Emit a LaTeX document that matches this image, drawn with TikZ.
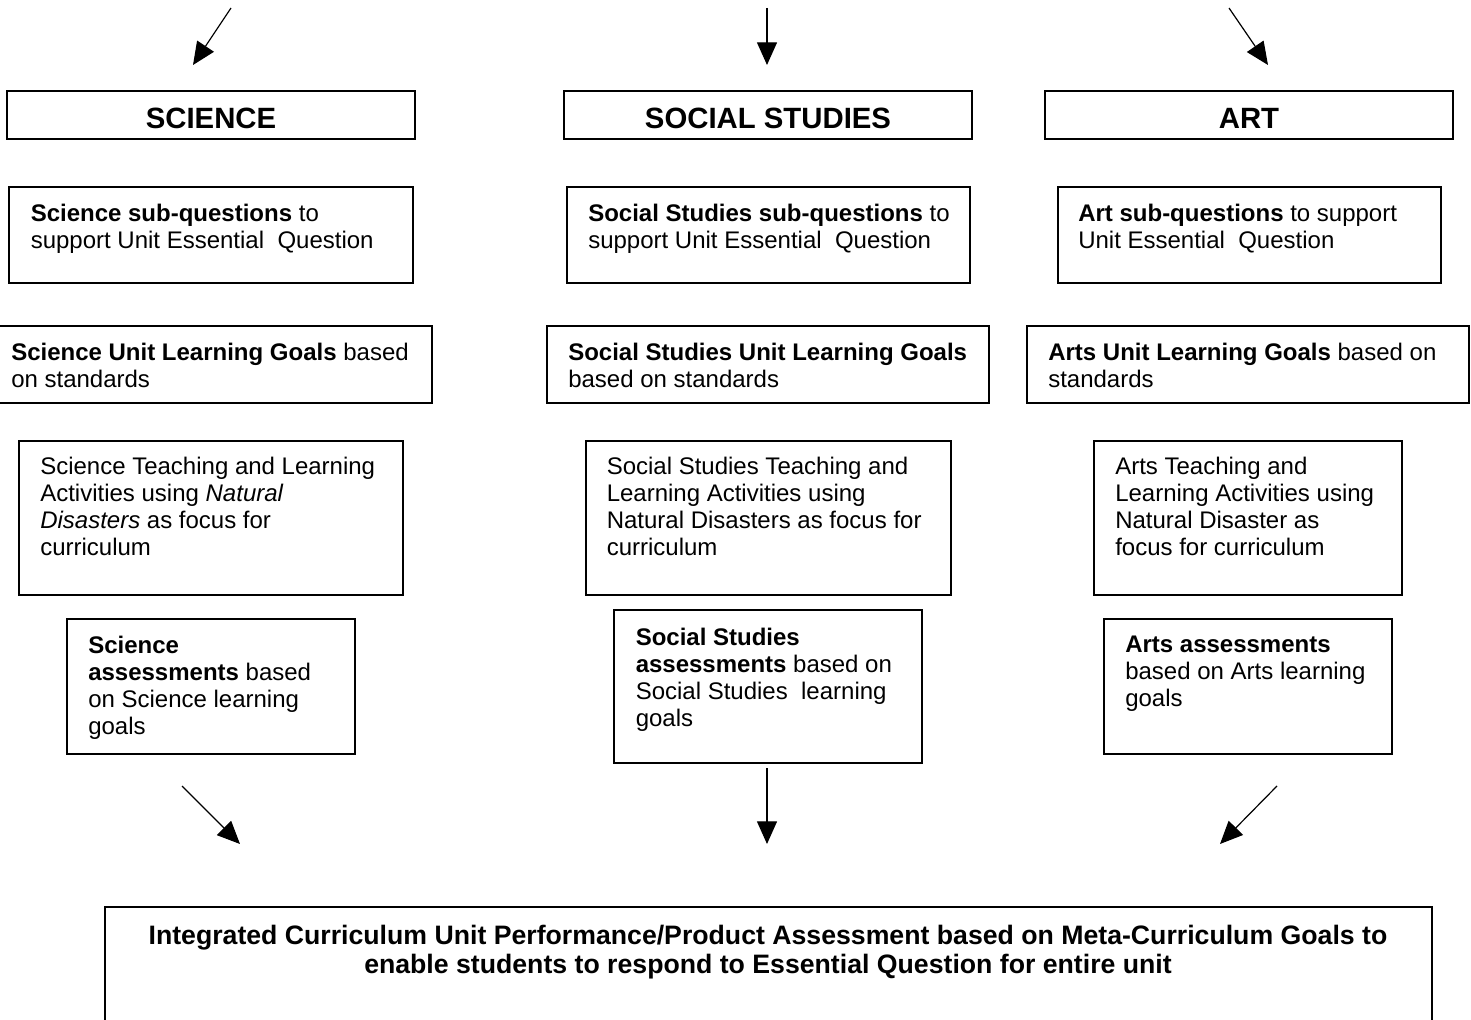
\documentclass[tikz,border=0pt]{standalone}
\usepackage{fontspec}
\setmainfont{Liberation Sans}
\usetikzlibrary{arrows.meta}

\tikzset{
  boxline/.style={line width=1.2pt},
  flowarrow/.style={line width=0.9pt, -{Triangle[length=17pt,width=15pt]}},
  subject/.style={inner sep=0pt, anchor=center, font=\fontsize{22}{26}\selectfont\bfseries},
  boxtext/.style={inner sep=0pt, anchor=north west, align=left, font=\fontsize{18}{20.25}\selectfont},
  finaltext/.style={inner sep=0pt, anchor=north, align=center, font=\fontsize{20}{21.75}\selectfont\bfseries}
}

\begin{document}
\begin{tikzpicture}[x=0.75pt,y=0.75pt,yscale=-1,xscale=1]
\useasboundingbox (0,0) rectangle (1471,1020);

%Shape: Rectangle (subject headers)
\draw [boxline] (7,91) rectangle (415,139);
\draw [boxline] (564,91) rectangle (972,139);
\draw [boxline] (1045,91) rectangle (1453,139);
%Shape: Rectangle (sub-questions)
\draw [boxline] (9,187) rectangle (413,283);
\draw [boxline] (567,187) rectangle (970,283);
\draw [boxline] (1058,187) rectangle (1441,283);
%Shape: Rectangle (unit learning goals)
\draw [boxline] (-5,326) rectangle (432,403);
\draw [boxline] (547,326) rectangle (989,403);
\draw [boxline] (1027,326) rectangle (1469,403);
%Shape: Rectangle (teaching and learning activities)
\draw [boxline] (19,441) rectangle (403,595);
\draw [boxline] (586,441) rectangle (951,595);
\draw [boxline] (1094,441) rectangle (1402,595);
%Shape: Rectangle (assessments)
\draw [boxline] (67,619) rectangle (355,754);
\draw [boxline] (614,610) rectangle (922,763);
\draw [boxline] (1104,619) rectangle (1392,754);
%Shape: Rectangle (integrated unit)
\draw [boxline] (105,907) rectangle (1432,1040);

% Arrow ends
\coordinate (sciin0) at (231,8);
\coordinate (sciin1) at (193,65);
\coordinate (socin0) at (767,8);
\coordinate (socin1) at (767,65);
\coordinate (artin0) at (1229,8);
\coordinate (artin1) at (1268,65);
\coordinate (sciout0) at (182,786);
\coordinate (sciout1) at (240,844);
\coordinate (socout0) at (767,768);
\coordinate (socout1) at (767,844);
\coordinate (artout0) at (1277,786);
\coordinate (artout1) at (1220,844);

%Straight Lines
\draw [flowarrow] (sciin0) -- (sciin1);
\draw [flowarrow] (socin0) -- (socin1);
\draw [flowarrow] (artin0) -- (artin1);
\draw [flowarrow] (sciout0) -- (sciout1);
\draw [flowarrow] (socout0) -- (socout1);
\draw [flowarrow] (artout0) -- (artout1);

% Text Node
\node (scihead) [subject] at (211,118.5) {SCIENCE};
% Text Node
\node (sochead) [subject] at (768,118.5) {SOCIAL STUDIES};
% Text Node
\node (arthead) [subject] at (1249,118.5) {ART};

% Text Node
\node (scisubq) [boxtext] at (30.5,204) {\textbf{Science sub-questions} to\\support Unit Essential\ \ Question};
% Text Node
\node (socsubq) [boxtext] at (588,204) {\textbf{Social Studies sub-questions} to\\support Unit Essential\ \ Question};
% Text Node
\node (artsubq) [boxtext] at (1078,204) {\textbf{Art sub-questions} to support\\Unit Essential\ \ Question};

% Text Node
\node (scigoals) [boxtext] at (11,342.5) {\textbf{Science Unit Learning Goals} based\\on standards};
% Text Node
\node (socgoals) [boxtext] at (568,342.5) {\textbf{Social Studies Unit Learning Goals}\\based on standards};
% Text Node
\node (artgoals) [boxtext] at (1048,342.5) {\textbf{Arts Unit Learning Goals} based on\\standards};

% Text Node
\node (sciteach) [boxtext] at (40,457) {Science Teaching and Learning\\Activities using \textit{Natural}\\\textit{Disasters} as focus for\\curriculum};
% Text Node
\node (socteach) [boxtext] at (606.5,457) {Social Studies Teaching and\\Learning Activities using\\Natural Disasters as focus for\\curriculum};
% Text Node
\node (artteach) [boxtext] at (1115,457) {Arts Teaching and\\Learning Activities using\\Natural Disaster as\\focus for curriculum};

% Text Node
\node (sciassess) [boxtext] at (88,636) {\textbf{Science}\\\textbf{assessments} based\\on Science learning\\goals};
% Text Node
\node (socassess) [boxtext] at (635.5,627.5) {\textbf{Social Studies}\\\textbf{assessments} based on\\Social Studies\ \ learning\\goals};
% Text Node
\node (artassess) [boxtext] at (1125,636) {\textbf{Arts assessments}\\based on Arts learning\\goals};

% Text Node
\node (unitassess) [finaltext] at (768,925) {Integrated Curriculum Unit Performance/Product Assessment based on Meta-Curriculum Goals to\\enable students to respond to Essential Question for entire unit};

\end{tikzpicture}
\end{document}
